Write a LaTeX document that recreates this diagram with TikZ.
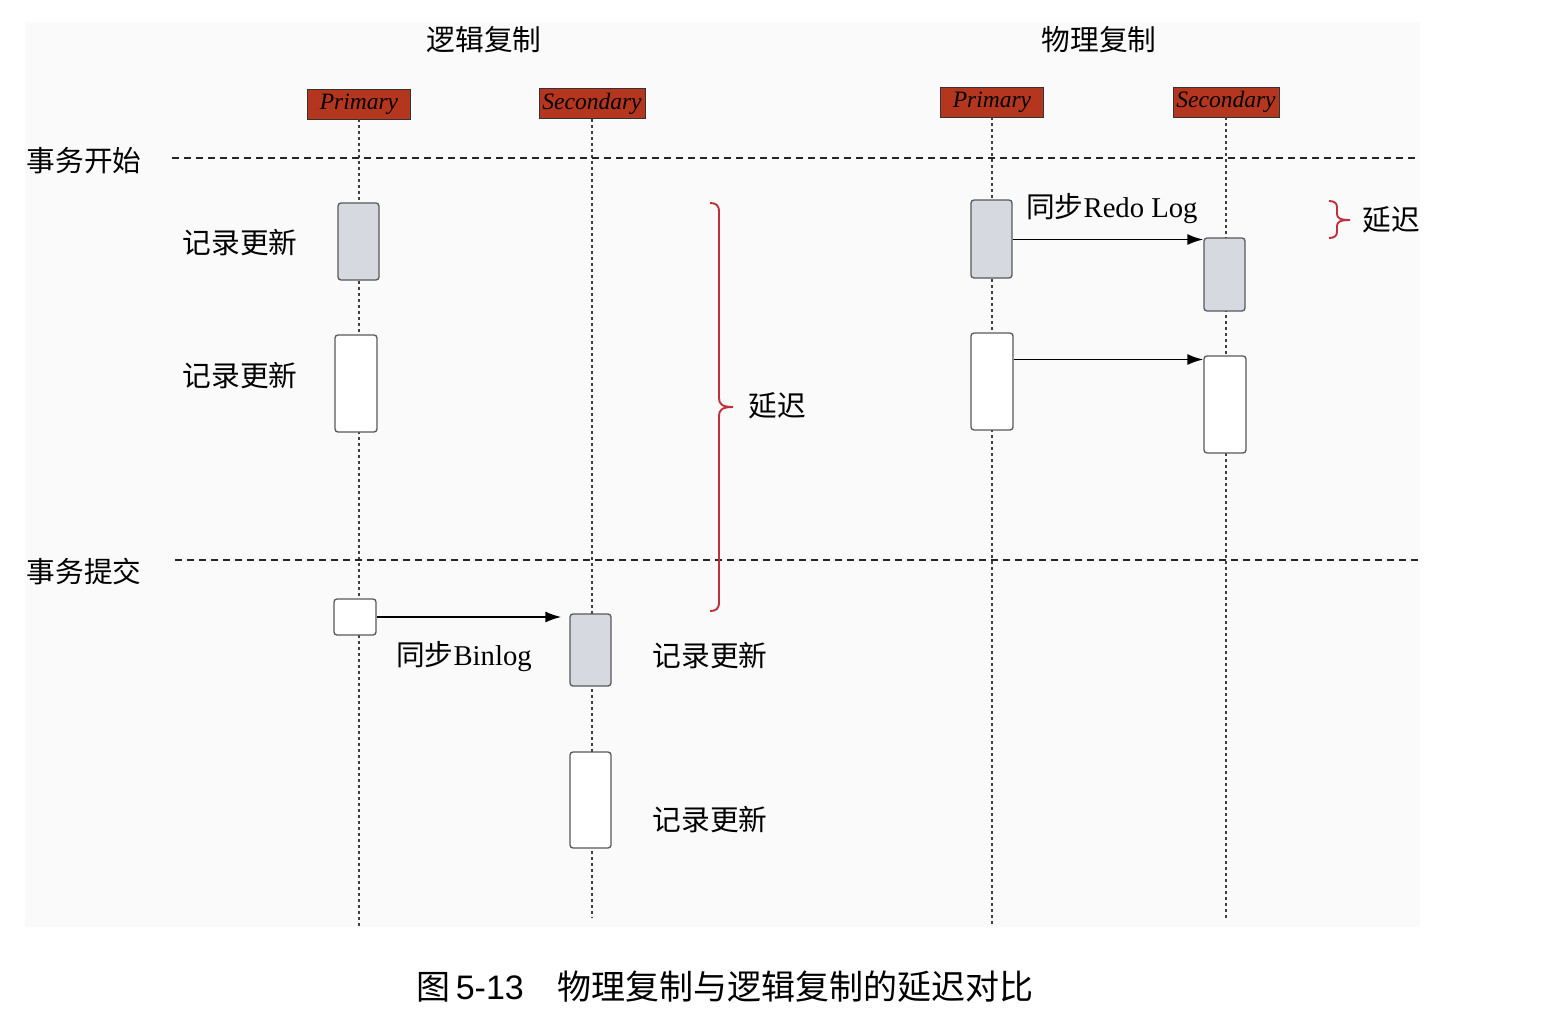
\documentclass[tikz,border=0pt]{standalone}
\usepackage{fontspec}
\setmainfont{Liberation Serif}
\newfontfamily\cjk{Noto Sans CJK SC}
\newfontfamily\arialf{Liberation Sans}
\usetikzlibrary{arrows.meta}
\definecolor{hdrred}{HTML}{B5361F}
\definecolor{actgray}{HTML}{D6D9E0}
\definecolor{brred}{HTML}{C0303A}
\definecolor{bgc}{HTML}{FAFAFA}
\tikzset{
  hdr/.style={draw=black!80, line width=0.8pt, fill=hdrred, minimum height=30pt, inner sep=0pt, font=\fontsize{23.5}{26}\selectfont\itshape},
  act/.style={draw=black!65, line width=1.3pt, rounded corners=3pt, inner sep=0pt, fill=white},
  actg/.style={act, fill=actgray},
  life/.style={draw=black!75, line width=2.8pt, dash pattern=on 2.6pt off 3.4pt},
  phase/.style={draw=black!85, line width=1.8pt, dash pattern=on 7pt off 5pt},
  lbl/.style={font=\cjk\fontsize{28.7}{32}\selectfont, inner sep=0pt},
  arr/.style={draw=black, line width=1.8pt, -{Latex[length=16pt,width=11pt]}},
  brc/.style={draw=brred, line width=1.9pt},
}
\begin{document}
\begin{tikzpicture}[x=1pt,y=-1pt]
\useasboundingbox (0,0) rectangle (1556,1026);
\fill[bgc] (25,22) rectangle (1420,927);

% titles
\node[lbl] (tl) at (484,40) {逻辑复制};
\node[lbl] (tr) at (1099,40) {物理复制};

% headers
\node[hdr, minimum width=103pt] (hp1) at (359,104) {Primary};
\node[hdr, minimum width=106pt] (hs1) at (592,103.5) {Secondary};
\node[hdr, minimum width=103pt] (hp2) at (992,102) {Primary};
\node[hdr, minimum width=106pt] (hs2) at (1226,102) {Secondary};

% lifeline ends
\coordinate (ep1) at (359,926);
\coordinate (es1) at (592,918);
\coordinate (ep2) at (992,926);
\coordinate (es2) at (1226,918);
\draw[life] (hp1.south) -- (ep1);
\draw[life] (hs1.south) -- (es1);
\draw[life] (hp2.south) -- (ep2);
\draw[life] (hs2.south) -- (es2);

% phase lines
\coordinate (d1a) at (172,158); \coordinate (d1b) at (1417,158);
\coordinate (d2a) at (175,560); \coordinate (d2b) at (1418,560);
\draw[phase] (d1a) -- (d1b);
\draw[phase] (d2a) -- (d2b);
\node[lbl] (start) at (84,161) {事务开始};
\node[lbl] (commit) at (84,571) {事务提交};

% left activation boxes
\node[actg, minimum width=41pt, minimum height=77pt] (lp1) at (358.5,241.5) {};
\node[act, minimum width=42pt, minimum height=97pt] (lp2) at (356,383.5) {};
\node[act, minimum width=42pt, minimum height=36pt] (lp3) at (355,617) {};
\node[actg, minimum width=41pt, minimum height=72pt] (ls1) at (590.5,650) {};
\node[act, minimum width=41pt, minimum height=96pt] (ls2) at (590.5,800) {};

% right activation boxes
\node[actg, minimum width=41pt, minimum height=78pt] (rp1) at (991.5,239) {};
\node[act, minimum width=42pt, minimum height=97pt] (rp2) at (992,381.5) {};
\node[actg, minimum width=41pt, minimum height=73pt] (rs1) at (1224.5,274.5) {};
\node[act, minimum width=42pt, minimum height=97pt] (rs2) at (1225,404.5) {};

% arrow anchors
\coordinate (a1s) at (rp1.east |- 0,239.5);
\coordinate (a1e) at (rs1.west |- 0,239.5);
\coordinate (a2s) at (rp2.east |- 0,359.5);
\coordinate (a2e) at (rs2.west |- 0,359.5);
\draw[arr] (a1s) -- (a1e);
\draw[arr] (a2s) -- (a2e);
\draw[arr, shorten >=8pt] (lp3.east) -- (lp3.east -| ls1.west);

% labels
\node[lbl] (l1) at (240,243) {记录更新};
\node[lbl] (l2) at (240,376) {记录更新};
\node[lbl] (l3) at (710,656) {记录更新};
\node[lbl] (l4) at (710,820) {记录更新};
\node[lbl, anchor=west] (redo) at (1026,209) {同步\fontsize{28.7}{32}\selectfont\rmfamily Redo Log};
\node[lbl, anchor=west] (binlog) at (396,657) {同步\fontsize{28.7}{32}\selectfont\rmfamily Binlog};

% big brace
\coordinate (b1t) at (710,203);
\coordinate (b1b) at (710,611);
\draw[brc] (b1t) .. controls (716,203) and (719,205) .. (719,212)
  -- (719,398) .. controls (719,404) and (722,407) .. (733,407)
  .. controls (722,407) and (719,410) .. (719,416)
  -- (719,602) .. controls (719,609) and (716,611) .. (b1b);
\node[lbl] (yc1) at (777,406) {延迟};

% small brace
\coordinate (b2t) at (1329,201);
\coordinate (b2b) at (1329,238);
\draw[brc] (b2t) .. controls (1334,201) and (1337,203) .. (1337,207)
  -- (1337,214) .. controls (1337,218) and (1340,220) .. (1350,220)
  .. controls (1340,220) and (1337,222) .. (1337,226)
  -- (1337,232) .. controls (1337,236) and (1334,238) .. (b2b);
\node[lbl] (yc2) at (1391,220) {延迟};

% caption
\node[lbl, font=\cjk\fontsize{34}{38}\selectfont] (cap) at (725,987) {图\,{\arialf 5-13}\hspace{34pt}物理复制与逻辑复制的延迟对比};
\end{tikzpicture}
\end{document}
